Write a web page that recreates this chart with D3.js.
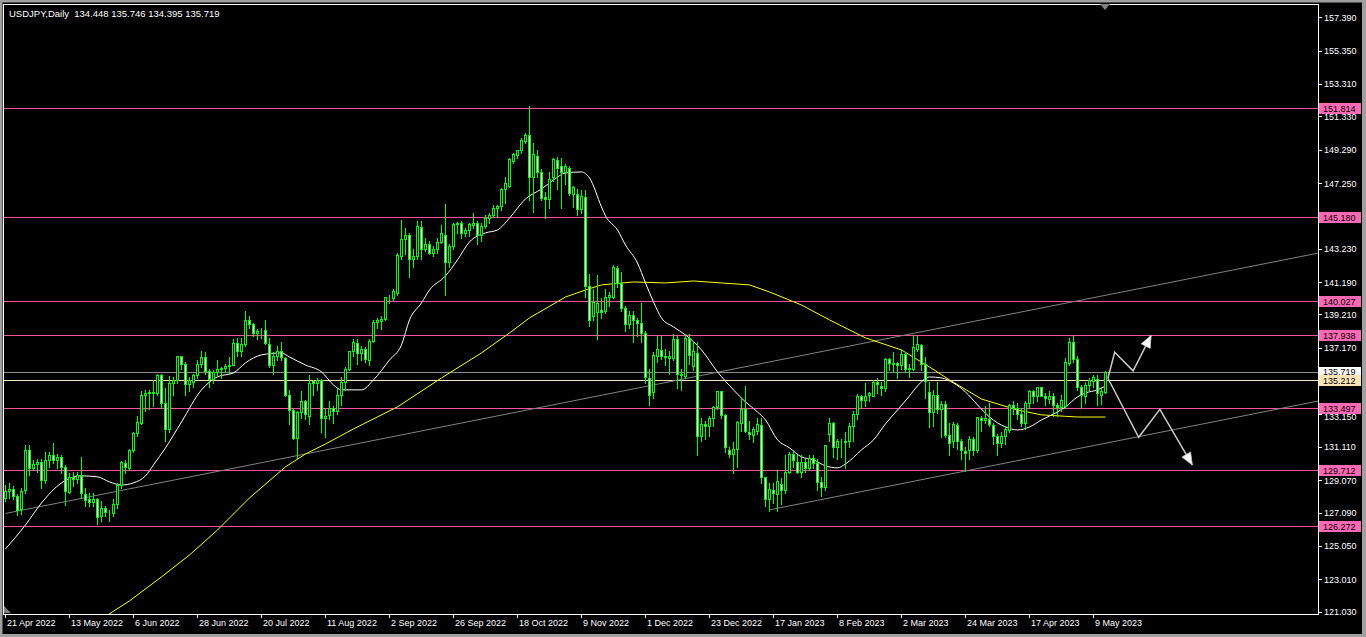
<!DOCTYPE html>
<html><head><meta charset="utf-8">
<script src="https://cdn.jsdelivr.net/npm/d3@7"></script>
<style>html,body{margin:0;padding:0;background:#000;overflow:hidden}svg{display:block}</style>
</head><body><svg id="c" width="1366" height="637"></svg>
<script>
const symbolTitle = "USDJPY,Daily";
const lastOHLC = ["134.448","135.746","134.395","135.719"];

const open=[128.0,128.4,128.55,128.1,127.3,128.45,130.9,129.85,130.05,130.2,
129.1,130.3,130.6,130.3,130.5,129.9,128.35,129.3,129.15,129.4,
128.25,127.9,127.75,127.95,126.9,127.35,127.1,127.05,127.6,128.75,
130.15,129.85,130.9,131.95,132.6,134.3,134.4,134.45,134.4,135.5,
133.8,132.2,135.0,135.2,136.65,136.2,134.95,135.1,135.5,136.2,
136.6,135.75,135.25,135.7,135.9,135.95,136.05,136.1,137.45,137.0,
137.4,138.9,138.6,138.1,138.2,138.25,137.4,136.1,136.7,136.95,
136.55,134.3,133.35,131.65,133.25,133.9,133.0,135.15,135.0,135.2,
132.9,133.05,133.5,133.3,134.3,135.1,135.9,137.0,137.45,136.85,
137.1,136.45,137.6,138.75,138.8,138.95,140.2,140.2,140.5,142.8,
143.8,144.1,142.6,142.8,144.55,143.2,143.5,142.95,143.2,143.65,
144.1,142.4,143.4,144.75,144.8,144.2,144.35,144.7,144.8,144.1,
144.6,145.1,145.3,145.7,145.85,146.9,147.1,148.6,148.95,149.25,
149.85,150.2,147.65,148.9,147.95,146.4,146.3,147.65,148.65,148.3,
147.9,148.2,146.6,146.6,145.65,146.4,140.95,139.1,139.35,139.5,
139.45,140.25,140.3,142.05,141.15,139.6,138.6,139.2,138.9,138.7,
138.05,135.3,134.45,136.65,137.05,136.7,136.55,136.55,137.7,135.6,
135.45,137.8,136.05,136.85,131.75,132.5,132.4,132.85,133.55,134.5,
133.05,130.9,130.65,131.0,132.55,133.4,132.05,131.85,132.1,132.45,
129.25,127.9,128.5,128.2,128.85,128.45,129.6,130.7,130.2,129.6,
130.2,129.85,130.45,130.1,128.95,128.65,131.9,132.6,131.1,131.45,
131.5,131.45,132.4,133.1,134.2,133.95,134.3,134.25,135.1,134.85,
134.7,136.5,136.25,136.25,136.1,136.8,135.95,135.9,137.1,137.35,
136.2,134.45,133.25,134.3,133.45,133.75,131.85,131.5,132.45,131.45,
130.85,130.9,131.6,130.9,132.9,132.75,132.8,132.45,131.8,131.35,
131.8,132.15,133.7,133.5,133.15,132.6,133.8,134.55,134.2,134.75,
134.2,134.05,134.25,133.7,133.55,133.6,136.25,137.55,136.5,134.8,
134.25,134.9,135.15,135.25,134.3,134.448];

const high=[128.8,128.9,128.7,128.2,128.6,131.25,131.2,130.3,130.4,130.4,
130.8,130.8,131.35,130.7,130.6,130.0,129.5,129.6,129.6,130.5,
128.6,128.3,128.3,128.0,127.8,127.5,127.25,127.9,128.9,130.25,
130.3,131.0,132.0,133.0,134.5,134.6,134.6,135.2,135.6,135.6,
134.7,135.45,135.4,136.7,136.7,136.3,135.4,135.6,136.4,137.0,
136.9,135.9,135.8,136.4,136.0,136.2,136.6,137.7,137.8,137.8,
139.4,139.1,138.7,138.3,138.4,138.9,137.8,136.9,137.3,137.5,
136.6,134.6,133.4,133.3,134.5,134.0,135.5,135.2,135.3,135.25,
133.4,133.9,133.6,134.7,135.4,136.0,137.0,137.7,137.7,137.3,
137.2,137.7,138.9,139.0,139.1,140.25,140.4,140.8,143.0,145.0,
144.5,144.2,143.2,144.9,144.9,143.9,143.7,143.4,143.9,144.7,
145.95,143.5,144.8,144.85,144.9,144.5,144.8,145.4,144.9,144.8,
145.3,145.4,145.9,145.9,146.95,147.6,148.8,149.1,149.3,150.0,
150.3,151.95,149.7,149.3,148.1,146.7,147.9,148.8,148.85,148.8,
148.4,148.3,147.1,146.9,146.8,146.8,141.7,140.8,141.6,140.2,
140.8,140.6,142.25,142.2,141.8,139.7,139.4,139.4,139.0,139.9,
138.2,135.9,136.9,137.9,137.9,137.1,137.0,138.0,137.9,135.9,
138.0,138.0,137.5,137.5,132.9,132.7,133.0,133.6,134.5,134.55,
133.1,131.1,131.4,132.7,134.1,134.85,132.7,132.3,132.9,132.9,
129.3,128.9,128.9,129.7,129.2,130.6,130.8,130.9,130.6,130.6,
130.4,130.6,130.6,130.4,129.3,131.25,132.9,132.65,131.6,131.6,
132.0,132.6,133.3,134.35,134.3,135.0,134.45,135.2,135.3,135.1,
136.55,136.55,136.9,136.3,137.1,136.9,136.2,137.95,137.9,137.4,
136.6,135.1,134.6,135.1,133.9,133.9,132.6,132.65,132.6,131.6,
131.1,131.8,131.7,132.95,133.0,133.6,133.8,132.6,131.9,132.0,
132.4,133.75,133.9,133.8,133.5,133.9,134.6,134.6,134.8,134.8,
134.4,134.5,134.4,133.8,134.3,136.55,137.8,137.9,136.7,134.9,
135.1,135.3,135.5,135.5,134.8,135.746];

const low=[127.8,128.0,127.9,126.95,127.0,128.3,129.4,129.7,129.6,128.6,
128.9,129.9,130.1,129.8,129.5,127.55,128.3,128.7,128.9,128.0,
127.5,127.5,127.5,126.4,126.6,126.9,126.55,126.9,127.4,128.6,
129.5,129.7,130.8,131.8,132.5,133.3,133.4,133.6,134.3,133.5,
131.5,132.0,134.3,135.0,135.9,134.3,134.5,134.8,135.3,136.0,
135.6,134.8,135.0,135.5,135.3,135.7,135.6,136.1,136.7,136.7,
137.3,138.4,137.9,137.7,137.8,137.4,136.0,135.6,136.4,136.4,
134.2,132.5,131.6,130.4,132.9,132.8,132.5,134.3,134.6,132.0,
131.7,132.8,132.6,133.1,133.7,134.6,135.8,136.7,136.2,136.4,
136.3,136.1,137.5,138.4,138.3,138.9,139.9,140.1,140.4,142.6,
142.9,141.5,142.1,142.6,142.6,143.1,142.9,142.8,143.0,143.6,
140.4,142.1,143.2,144.2,143.9,144.0,144.0,144.5,143.5,143.7,
144.5,144.8,145.2,145.2,145.6,146.0,147.0,148.5,148.8,149.1,
149.7,146.2,145.5,147.6,146.2,145.1,145.7,147.4,146.9,145.7,
147.2,146.5,145.8,145.3,145.4,140.3,138.5,138.9,137.7,139.0,
139.3,139.7,140.2,140.9,139.4,138.2,138.4,137.5,137.9,137.5,
135.0,133.65,134.1,136.3,136.5,136.1,135.6,136.4,134.7,134.6,
135.3,136.2,135.8,130.6,131.5,131.6,131.8,132.4,133.4,132.9,
130.8,130.5,129.5,129.9,132.1,132.0,131.6,131.4,131.9,128.9,
127.5,127.2,127.7,127.2,127.6,128.3,129.5,129.9,129.5,129.3,
129.6,129.7,129.8,128.5,128.1,128.5,131.5,130.5,130.4,130.5,
129.8,131.1,131.5,132.8,133.5,133.6,133.9,134.2,134.4,134.3,
134.5,135.8,135.7,135.3,135.9,135.7,135.4,135.8,137.0,135.8,
134.1,132.3,132.4,133.2,131.7,131.7,130.6,131.1,131.0,130.4,
129.65,130.4,130.6,130.8,132.1,132.6,132.4,131.3,130.6,131.1,
131.3,132.0,133.1,132.8,132.4,132.2,133.5,133.8,133.9,134.2,
133.7,133.8,133.0,133.0,133.3,133.5,136.1,136.3,134.6,133.5,
133.8,134.6,134.8,133.7,133.75,134.395];

const close=[128.4,128.55,128.1,127.25,128.4,130.9,129.85,130.05,130.2,129.1,
130.3,130.6,130.3,130.5,129.9,128.4,129.3,129.15,129.4,128.3,
127.85,127.75,127.95,126.85,127.4,127.1,127.1,127.6,128.75,130.2,
129.9,130.9,131.95,132.65,134.3,134.4,134.45,134.4,135.5,133.8,
132.2,135.0,135.2,136.7,136.2,134.95,135.2,135.5,136.2,136.6,
135.75,135.25,135.7,135.9,135.95,136.05,136.1,137.45,137.0,137.4,
138.9,138.6,138.1,138.2,138.2,137.45,136.1,136.7,136.95,136.6,
134.3,133.35,131.65,133.25,133.9,133.15,135.0,135.0,135.2,132.9,
133.0,133.5,133.3,134.3,135.1,135.9,137.0,137.55,136.85,137.1,
136.5,137.6,138.75,138.85,138.95,140.25,140.2,140.65,142.85,143.8,
144.1,142.6,142.8,144.6,143.2,143.5,142.95,143.2,143.65,144.2,
142.4,143.4,144.75,144.8,144.2,144.4,144.75,144.8,144.1,144.6,
145.1,145.3,145.7,145.85,146.9,147.25,148.75,149.05,149.25,149.9,
150.2,147.6,149.0,147.95,146.35,146.3,147.5,148.75,148.2,147.9,
148.3,146.65,147.0,145.65,146.45,140.95,138.9,140.0,139.9,139.35,
140.25,140.4,142.1,141.15,139.6,138.65,139.2,138.9,138.7,138.1,
135.4,134.3,136.75,137.1,136.7,136.6,136.65,137.7,135.6,135.5,
137.8,136.75,136.95,131.75,132.5,132.4,132.85,133.55,134.5,133.05,
131.1,130.7,131.0,132.65,133.45,132.1,131.9,132.2,132.5,129.3,
127.9,128.55,128.3,129.0,128.45,129.6,130.7,130.3,129.6,130.2,
129.85,130.45,130.1,128.95,128.65,131.2,132.6,131.1,131.45,131.5,
131.4,132.4,133.1,134.2,133.95,134.2,134.4,135.1,134.95,134.7,
136.5,136.25,136.2,136.1,136.8,135.9,135.9,137.2,137.4,136.2,
135.15,133.25,134.3,133.45,133.75,131.85,131.35,132.5,131.5,130.9,
130.75,131.6,130.9,132.95,132.75,132.85,132.5,131.75,131.35,131.8,
132.2,133.65,133.5,133.15,132.6,133.8,134.55,134.2,134.75,134.2,
134.1,134.25,133.7,133.55,133.95,136.3,137.55,136.5,134.8,134.3,
134.9,135.2,135.4,134.4,134.55,135.719];

const tickIndex=[0,16,32,48,64,80,96,112,128,144,160,176,192,208,224,240,256,272];
const tickLabels=["21 Apr 2022","13 May 2022","6 Jun 2022","28 Jun 2022","20 Jul 2022","11 Aug 2022","2 Sep 2022","26 Sep 2022","18 Oct 2022","9 Nov 2022","1 Dec 2022","23 Dec 2022","17 Jan 2023","8 Feb 2023","2 Mar 2023","24 Mar 2023","17 Apr 2023","9 May 2023"];
// 145.21 and 135.15 labels sit fully under the price markers in the reference, so they are left out
const priceTicks=[157.39,155.35,153.31,151.33,149.29,147.25,143.23,141.19,139.21,137.17,133.15,131.11,129.07,127.09,125.05,123.01,121.03];
const levels=[151.814,145.180,140.027,137.938,133.497,129.712,126.272];
const bidLevel=135.719;
const userLevel=135.212;

const maWhiteIdx=[0,5,9,14,19,23,26,29,32,35,37,40,44,49,53,57,60,64,69,71,75,79,82,84,89,92,96,99,101,104,106,110,113,116,120,123,126,130,134,137,140,144,146,149,150,153,155,158,160,162,164,167,170,174,178,182,185,188,190,193,196,199,202,205,208,210,214,217,220,223,226,228,231,234,237,240,243,246,250,253,256,259,263,265,268,270,273,275];
const maWhiteVal=[124.87,126.34,127.68,128.91,129.34,129.28,128.97,128.78,128.91,129.34,130.01,131.05,132.64,134.60,135.40,135.64,136.25,136.74,136.86,136.61,136.12,135.70,134.90,134.60,134.60,135.21,136.43,137.35,138.88,139.92,140.71,141.57,142.55,143.65,144.20,144.38,145.11,146.28,146.89,147.44,147.87,147.93,147.56,145.79,145.24,144.38,143.46,142.36,141.14,139.98,139.00,138.45,137.96,137.04,135.70,134.60,133.86,133.25,132.76,131.54,131.05,130.50,130.32,129.95,129.83,130.07,130.93,131.54,132.52,133.37,134.23,134.84,135.39,135.33,135.02,134.47,133.68,132.94,132.33,132.15,132.33,132.76,133.25,133.56,134.17,134.41,134.60,134.84];

const maYellowIdx=[24,31,39,46,53,61,70,75,80,87,98,109,119,126,131,140,145,149,157,165,172,179,186,191,199,206,215,224,231,236,244,253,259,268,275];
const maYellowVal=[120.59,121.69,123.16,124.50,126.03,127.99,129.89,130.68,131.29,132.21,133.56,135.33,136.86,138.08,139.00,140.28,140.71,141.02,141.20,141.14,141.26,141.14,141.02,140.59,139.79,138.88,137.78,137.04,136.00,135.21,134.04,133.37,133.07,132.94,132.94];

const trendUpper=[[0,127.04],[328.25,142.97]];
const trendLower=[[191,127.26],[328.25,133.92]];
const arrowUp=[[275.6,135.31],[277.3,136.90],[281.9,135.76],[286.4,137.93]];
const arrowDown=[[275.6,135.31],[283.3,131.70],[288.6,133.41],[296.7,130.01]];

const svg=d3.select("#c");
const FONT='"Liberation Sans", Arial, sans-serif';
const plotL=3, plotR=1318, plotT=4, plotB=614;
const x=d3.scaleLinear().domain([0,275]).range([5.5,1105.5]);
const y=d3.scaleLinear().domain([121.03,157.39]).range([611.7,17.3]);
const ry=v=>Math.round(y(v))+0.5;

svg.append("rect").attr("width",1366).attr("height",637).attr("fill","#000");
svg.append("defs").append("clipPath").attr("id","clip").append("rect")
  .attr("x",plotL).attr("y",plotT).attr("width",plotR-plotL).attr("height",plotB-plotT);
const g=svg.append("g").attr("clip-path","url(#clip)");

// horizontal levels
levels.forEach(v=>g.append("line").attr("x1",plotL).attr("x2",plotR).attr("y1",ry(v)).attr("y2",ry(v)).attr("stroke","#ff4fa0").attr("stroke-width",1));
g.append("line").attr("x1",plotL).attr("x2",plotR).attr("y1",ry(bidLevel)).attr("y2",ry(bidLevel)).attr("stroke","#8c8c8c");
g.append("line").attr("x1",plotL).attr("x2",plotR).attr("y1",ry(userLevel)).attr("y2",ry(userLevel)).attr("stroke","#ffe8c0");

// trendlines
const tl=d3.line().x(d=>x(d[0])).y(d=>y(d[1]));
g.append("path").attr("d",tl(trendUpper)).attr("stroke","#808080").attr("fill","none");
g.append("path").attr("d",tl(trendLower)).attr("stroke","#808080").attr("fill","none");

// moving averages
const yl=d3.line().x((d,i)=>x(maYellowIdx[i])).y(d=>y(d));
g.append("path").attr("d",yl(maYellowVal)).attr("stroke","#ffff00").attr("fill","none").attr("stroke-width",1);
const wl=d3.line().x((d,i)=>x(maWhiteIdx[i])).y(d=>y(d)).curve(d3.curveMonotoneX);
g.append("path").attr("d",wl(maWhiteVal)).attr("stroke","#ffffff").attr("fill","none").attr("stroke-width",1);

// candles
const idx=d3.range(close.length);
const cg=g.append("g");
cg.selectAll("line.w").data(idx).join("line")
  .attr("x1",i=>Math.round(x(i)-0.5)+0.5).attr("x2",i=>Math.round(x(i)-0.5)+0.5)
  .attr("y1",i=>Math.round(y(high[i]))).attr("y2",i=>Math.round(y(low[i]))+1)
  .attr("stroke","#00ff00").attr("stroke-width",1);
cg.selectAll("rect.b").data(idx).join("rect")
  .attr("x",i=>Math.round(x(i)-0.5)-0.5).attr("width",2)
  .attr("y",i=>ry(Math.max(open[i],close[i])))
  .attr("height",i=>Math.max(0,ry(Math.min(open[i],close[i]))-ry(Math.max(open[i],close[i]))))
  .attr("fill",i=>close[i]>=open[i]?"#000":"#fff")
  .attr("stroke","#00ff00").attr("stroke-width",1);

// arrows
function drawArrow(pts){
  const p=pts.map(d=>[x(d[0]),y(d[1])]);
  g.append("path").attr("d",d3.line()(p)).attr("stroke","#c8c8c8").attr("stroke-width",1.5).attr("fill","none");
  const a=p[p.length-2], b=p[p.length-1];
  const ang=Math.atan2(b[1]-a[1],b[0]-a[0]);
  const L=12, Wd=5;
  const bx=b[0]-L*Math.cos(ang), by=b[1]-L*Math.sin(ang);
  const px=-Math.sin(ang)*Wd, py=Math.cos(ang)*Wd;
  g.append("path").attr("d",`M${b[0]},${b[1]}L${bx+px},${by+py}L${bx-px},${by-py}Z`).attr("fill","#ffffff").attr("stroke","#c8c8c8").attr("stroke-width",0.8);
}
drawArrow(arrowUp); drawArrow(arrowDown);

// frame
svg.append("rect").attr("x",plotL+0.5).attr("y",plotT+0.5).attr("width",plotR-plotL).attr("height",plotB-plotT).attr("fill","none").attr("stroke","#ffffff");
// window border
svg.append("rect").attr("x",0).attr("y",0).attr("width",1366).attr("height",2.5).attr("fill","#a0a0a0");
svg.append("rect").attr("x",0).attr("y",0).attr("width",2.5).attr("height",637).attr("fill","#a0a0a0");
svg.append("rect").attr("x",1362).attr("y",0).attr("width",4).attr("height",637).attr("fill","#a0a0a0");
svg.append("rect").attr("x",0).attr("y",634).attr("width",1366).attr("height",3).attr("fill","#a0a0a0");

// shift markers
svg.append("path").attr("d","M1100,4L1110,4L1105,10Z").attr("fill","#808080");
svg.append("path").attr("d","M4,606L4,613L11,613Z").attr("fill","#808080");

// y axis ticks & labels
const ya=svg.append("g").attr("font-family",FONT).attr("font-size","9px");
priceTicks.forEach(v=>{
  ya.append("line").attr("x1",plotR).attr("x2",plotR+4).attr("y1",ry(v)).attr("y2",ry(v)).attr("stroke","#fff");
  // the 133.150 label sits just under the 133.497 marker box; nudge it below the box
  const nudge = v===133.15 ? 3 : 0;
  ya.append("text").attr("x",1324).attr("y",y(v)+3.5+nudge).attr("fill","#fff").text(d3.format(".3f")(v));
});
// x axis ticks & labels
const xa=svg.append("g").attr("font-family",FONT).attr("font-size","9px");
tickIndex.forEach((t,k)=>{
  const xx=Math.round(x(t)-0.5)+0.5;
  xa.append("line").attr("x1",xx).attr("x2",xx).attr("y1",plotB).attr("y2",plotB+4).attr("stroke","#fff");
  xa.append("text").attr("x",xx+1.5).attr("y",626).attr("fill","#fff").text(tickLabels[k]);
});

// price markers
function marker(v,bg,dy){
  const yy=Math.round(y(v));
  ya.append("rect").attr("x",1319).attr("y",yy-5).attr("width",42).attr("height",11).attr("fill",bg);
  ya.append("text").attr("x",1323).attr("y",yy+3.5+(dy||0)).attr("fill","#000").text(d3.format(".3f")(v));
}
levels.forEach(v=>marker(v,"#ff69b4"));
marker(bidLevel,"#ffffff",-1);
marker(userLevel,"#ffe4b5",0);

// header
svg.append("text").attr("x",9).attr("y",17).attr("font-family",FONT).attr("font-size","9.5px").attr("fill","#fff")
  .attr("xml:space","preserve").text(symbolTitle+"  "+lastOHLC.join(" "));
</script></body></html>
